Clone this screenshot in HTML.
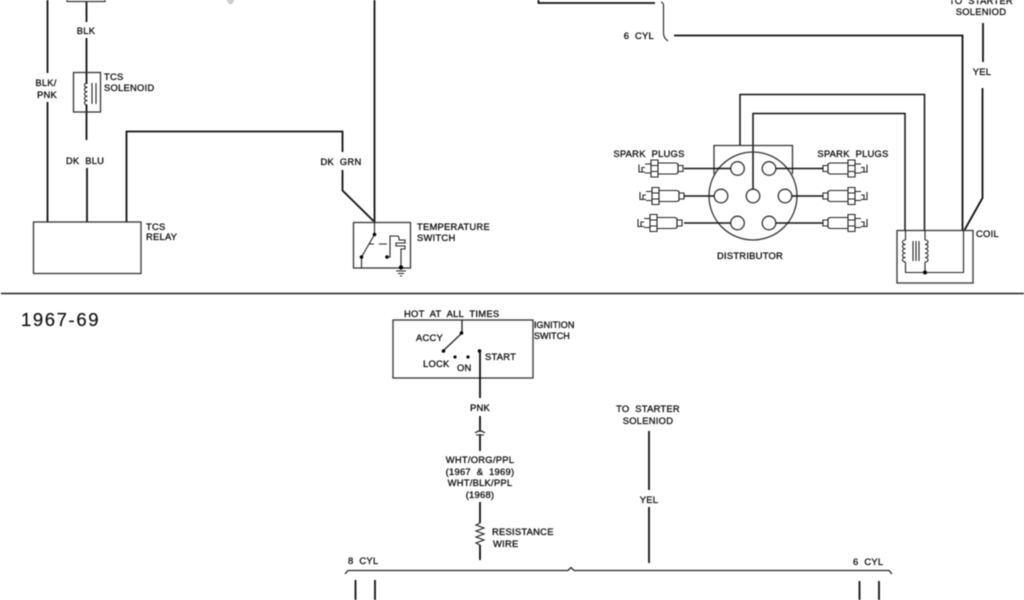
<!DOCTYPE html>
<html><head><meta charset="utf-8"><style>
html,body{margin:0;padding:0;background:#fff}
svg{display:block;filter:blur(.45px)}
text{font-family:"Liberation Sans",sans-serif;font-size:9.4px;fill:#111;letter-spacing:.25px;word-spacing:3px;stroke:#111;stroke-width:.32px}
.m{text-anchor:middle}
.e{text-anchor:end}
.w{fill:none;stroke:#111;stroke-width:1.8}
.t{fill:none;stroke:#222;stroke-width:1.100}
.b{fill:none;stroke:#333;stroke-width:1.300}
circle.d{fill:#000;stroke:none}
</style></head><body>
<svg width="1024" height="600" viewBox="0 0 1024 600" xmlns="http://www.w3.org/2000/svg">
<rect width="1024" height="600" fill="#fff"/>
<defs>
<g id="plug" class="t">
<path d="M-44 -4V3.500H-38M-41 3V-1H-38"/>
<path d="M-38 -4.500H-32V4.500H-38"/>
<path d="M-32 -5V-8.500H-25V8.500H-32V5 M-32 -3H-25 M-32 3H-25"/>
<path d="M-25 -5.500H-7L-5 -4.500V4.500L-7 5.500H-25"/>
<path d="M-5 -3H0V3H-5Z"/>
</g>
<path id="coil" class="t" d="M0 0c-4 0-4 4.400 0 4.400c-4 0-4 4.400 0 4.400c-4 0-4 4.400 0 4.400c-4 0-4 4.400 0 4.400c-4 0-4 4.400 0 4.400"/>
</defs>

<!-- top left -->
<path class="b" d="M67 0V1.500H105V0"/>
<path class="w" d="M47.500 0V73M47.500 102V222M86.500 2V22M86.500 38V84M86.500 105V140M87 168V222"/>
<rect class="b" x="73.500" y="72.500" width="27" height="39.500"/>
<use href="#coil" x="87.500" y="83"/>
<path class="t" d="M92 83V104M96 83V104"/>
<path class="w" d="M126.500 222V131.500H342.500V152M342.500 170V190.500L373.500 221M374.500 0V222"/>
<rect class="b" x="33.500" y="222" width="107.500" height="51.500"/>
<path d="M1 293.500H1024" stroke="#222" stroke-width="1.500"/>
<path d="M227 1H234M228.500 3H232.500" stroke="#777" stroke-width=".8"/>

<!-- temperature switch -->
<rect class="b" x="353.500" y="222.500" width="57" height="45.500"/>
<path class="t" d="M374.500 222V234.500M374.500 234.500L361.500 257M361.500 257V268"/>
<circle class="d" cx="374.500" cy="234.500" r="1.800"/><circle class="d" cx="361.500" cy="257" r="1.800"/><circle class="d" cx="387" cy="257" r="1.800"/>
<path class="t" d="M369 244H374M379 244H387"/>
<path class="t" d="M387 257H390V236H397Q399 236 399 238V240H405V243H396V246H405V249H401V268"/>
<circle class="d" cx="401" cy="267.500" r="2.200"/>
<path class="t" d="M396 271H406M398 273.500H404M400 276H402"/>

<!-- top right connectors -->
<path class="w" d="M538.500 0V3H655"/>
<path class="t" stroke-width="1.200" d="M661 2Q663.500 3 663.500 5V33Q663.500 38 668 41"/>
<path class="w" d="M674 35.500H962.500V230M983 23V62M982.500 88V198L964.500 230"/>

<!-- distributor -->
<path class="w" style="stroke-width:1.500" d="M740 145V94.500H924.500V230M753 189V113.500H905V230"/>
<path class="b" d="M714 174V145.500H792.500V174"/>
<circle class="b" cx="753" cy="196" r="44"/>
<g class="b" style="fill:#fff">
<circle cx="737.500" cy="168.500" r="6.800"/><circle cx="769" cy="168.500" r="6.800"/>
<circle cx="721" cy="196" r="6.800"/><circle cx="753" cy="196" r="6.800"/><circle cx="785" cy="196" r="6.800"/>
<circle cx="737.500" cy="223" r="6.800"/><circle cx="769" cy="223" r="6.800"/>
</g>
<path class="w" style="stroke-width:1.400" d="M684 168.500H730.500M684 196H714M684 223H730.500M776 168.500H823M792 196H823M776 223H823"/>
<use href="#plug" transform="translate(683 168.500)"/>
<use href="#plug" transform="translate(684 196)"/>
<use href="#plug" transform="translate(682 223)"/>
<use href="#plug" transform="translate(823 168.500) scale(-1 1)"/>
<use href="#plug" transform="translate(823 196) scale(-1 1)"/>
<use href="#plug" transform="translate(823 223) scale(-1 1)"/>

<!-- coil -->
<rect class="b" x="897" y="230.500" width="76" height="52.500"/>
<use href="#coil" x="905.500" y="240"/>
<use href="#coil" transform="translate(925 240) scale(-1 1)"/>
<path class="t" d="M905.500 230V240M925 230V240M905.500 262V272.500H963.500V230M925 262V272.500M913 241V261M916 241V261M919 241V261"/>
<circle class="d" cx="925" cy="272.500" r="2"/>

<!-- top labels -->
<text class="m" x="86" y="34">BLK</text>
<text class="m" x="46" y="86">BLK/</text>
<text class="m" x="47" y="98">PNK</text>
<text x="104" y="80">TCS</text>
<text x="104" y="91">SOLENOID</text>
<text class="m" x="85" y="164">DK BLU</text>
<text x="146" y="230">TCS</text>
<text x="146" y="240">RELAY</text>
<text class="m" x="341" y="165">DK GRN</text>
<text x="417" y="230">TEMPERATURE</text>
<text x="417" y="241">SWITCH</text>
<text class="m" x="649" y="157">SPARK PLUGS</text>
<text class="m" x="853" y="157">SPARK PLUGS</text>
<text class="m" x="750" y="259">DISTRIBUTOR</text>
<text x="976" y="237">COIL</text>
<text class="m" x="981" y="4">TO STARTER</text>
<text class="m" x="981" y="15">SOLENIOD</text>
<text class="e" x="654" y="39">6 CYL</text>
<text class="m" x="982" y="75">YEL</text>

<!-- bottom -->
<text x="21" y="326" style="font-size:18.500px;letter-spacing:1.600px;stroke-width:.2px">1967-69</text>
<rect class="b" x="393" y="320" width="140" height="58"/>
<path class="t" d="M462 320V333L443 351" style="stroke-width:1.300"/>
<circle class="d" cx="461.500" cy="333" r="1.800"/><circle class="d" cx="443.500" cy="351" r="1.800"/>
<circle class="d" cx="455" cy="357" r="1.600"/><circle class="d" cx="468" cy="357" r="1.600"/><circle class="d" cx="479.500" cy="351" r="1.800"/>
<path class="w" d="M480 351V398M480 416V431M480 434V451M480 502V523M480 545V560"/>
<path class="t" d="M475 433Q480 429 485 433M476 435H484"/>
<path class="t" d="M480 523L476 525L484 528L476 531L484 534L476 537L484 540L476 543L480 545"/>
<path class="w" d="M649 431V490M649 507V563"/>
<path class="b" style="stroke:#222" d="M345 574L348 570.500H568L571 567.500L574 570.500H889L892 574"/>
<path class="w" d="M355.500 580V600M375 580V600M859.500 581V600M879 581V600"/>

<text x="404" y="317">HOT AT ALL TIMES</text>
<text x="416" y="341">ACCY</text>
<text x="423" y="367">LOCK</text>
<text x="457" y="371">ON</text>
<text x="485" y="360">START</text>
<text x="534" y="328" style="font-size:9px;letter-spacing:.05px">IGNITION</text>
<text x="534" y="339" style="font-size:9px;letter-spacing:.05px">SWITCH</text>
<text class="m" x="480" y="411">PNK</text>
<text class="m" x="480" y="463">WHT/ORG/PPL</text>
<text class="m" x="480" y="475">(1967 &amp; 1969)</text>
<text class="m" x="480" y="486">WHT/BLK/PPL</text>
<text class="m" x="480" y="498">(1968)</text>
<text x="492" y="535">RESISTANCE</text>
<text x="493" y="547">WIRE</text>
<text class="m" x="648" y="412">TO STARTER</text>
<text class="m" x="648" y="424">SOLENIOD</text>
<text class="m" x="649" y="503">YEL</text>
<text x="348" y="564">8 CYL</text>
<text x="853" y="565">6 CYL</text>
</svg>
</body></html>
